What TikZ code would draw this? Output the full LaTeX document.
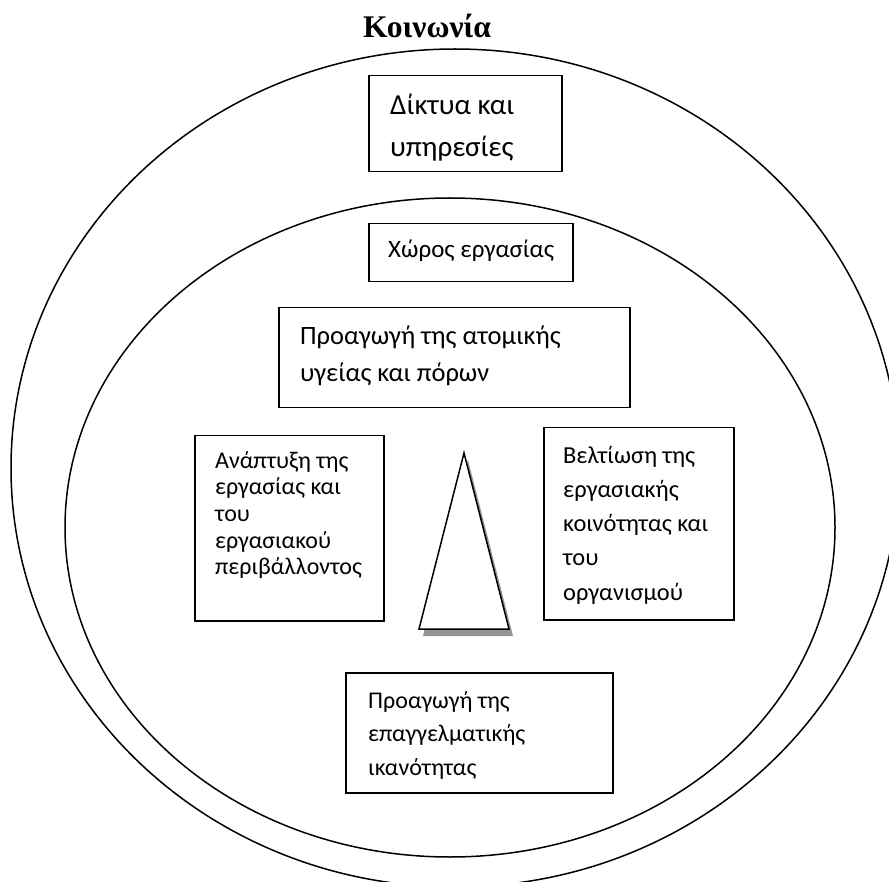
\documentclass[tikz,border=0pt]{standalone}
\usepackage{fontspec}
\setmainfont{Carlito}
\newfontfamily\headfont{Liberation Serif}
\usetikzlibrary{shapes.geometric}

\tikzset{
  ring/.style={draw, ellipse, line width=1.5pt, inner sep=0pt},
  panel/.style={draw, rectangle, line width=1.5pt, inner sep=0pt, anchor=north west},
  label/.style={inner sep=0pt, anchor=base west},
}

\begin{document}
\begin{tikzpicture}[x=1pt, y=-1pt]
  \useasboundingbox (0,0) rectangle (889,882);
  \clip (0,0) rectangle (889,882);

  % title
  \node[inner sep=0pt, anchor=base, font=\headfont\bfseries\fontsize{31.5}{36}\selectfont] (title) at (427,38) {Κοινωνία};

  % the two nested rings
  \node[ring, minimum width=888pt, minimum height=838pt] (society) at (455,468) {};
  \node[ring, minimum width=770pt, minimum height=659pt] (work) at (450,527.5) {};

  % boxes
  \node[panel, minimum width=193pt, minimum height=96pt] (net) at (368,75) {};
  \node[label, font=\fontsize{29}{34}\selectfont] (nettext) at (390,115)
    {\vtop{\baselineskip=42pt\hbox{Δίκτυα και}\hbox{υπηρεσίες}}};

  \node[panel, minimum width=204pt, minimum height=58pt] (place) at (368,223) {};
  \node[label, font=\fontsize{25}{29}\selectfont] (placetext) at (388,258) {Χώρος εργασίας};

  \node[panel, minimum width=351pt, minimum height=100pt] (health) at (278,307) {};
  \node[label, font=\fontsize{26.5}{31}\selectfont] (healthtext) at (300,345)
    {\vtop{\baselineskip=37pt\hbox{Προαγωγή της ατομικής}\hbox{υγείας και πόρων}}};

  \node[panel, minimum width=189pt, minimum height=185pt] (dev) at (194,435) {};
  \node[label, font=\fontsize{24}{28}\selectfont] (devtext) at (215,468)
    {\vtop{\baselineskip=26.7pt\hbox{Ανάπτυξη της}\hbox{εργασίας και}\hbox{του}\hbox{εργασιακού}\hbox{περιβάλλοντος}}};

  \node[panel, minimum width=190pt, minimum height=192pt] (comm) at (543,427) {};
  \node[label, font=\fontsize{24.4}{28}\selectfont] (commtext) at (563,463)
    {\vtop{\baselineskip=34.3pt\hbox{Βελτίωση της}\hbox{εργασιακής}\hbox{κοινότητας και}\hbox{του}\hbox{οργανισμού}}};

  \node[panel, minimum width=267pt, minimum height=120pt] (skill) at (345,672) {};
  \node[label, font=\fontsize{24}{28}\selectfont] (skilltext) at (368,708)
    {\vtop{\baselineskip=33.5pt\hbox{Προαγωγή της}\hbox{επαγγελματικής}\hbox{ικανότητας}}};

  % central triangle with its drop shadow
  \coordinate (apex) at (464,453);
  \coordinate (baseL) at (419,629);
  \coordinate (baseR) at (509,629);
  \fill[gray!85] ([shift={(4pt,-7pt)}]apex) -- ([shift={(4pt,-7pt)}]baseL) -- ([shift={(4pt,-7pt)}]baseR) -- cycle;
  \draw[line width=1.5pt, fill=white, line join=miter] (apex) -- (baseL) -- (baseR) -- cycle;
\end{tikzpicture}
\end{document}
